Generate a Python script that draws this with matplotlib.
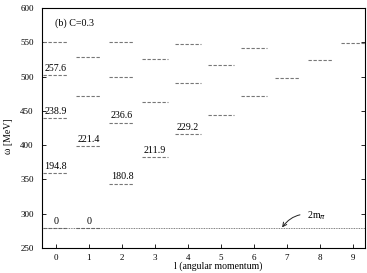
import matplotlib
matplotlib.use('Agg')
from matplotlib import pyplot as plt

# levels per angular momentum l
ls = [0, 0, 0, 0, 0,
      1, 1, 1, 1,
      2, 2, 2, 2,
      3, 3, 3,
      4, 4, 4,
      5, 5,
      6, 6,
      7,
      8,
      9]
energies = [550, 502, 439, 359, 279,
            529, 471, 399, 279,
            551, 500, 433, 344,
            525, 463, 383,
            548, 491, 416,
            517, 444,
            541, 471,
            498,
            524,
            549]

# numbers written above some levels
label_l = [0, 0, 0, 0, 1, 1, 2, 2, 3, 4]
label_e = [502, 439, 359, 279, 399, 279, 433, 344, 383, 416]
label_txt = ['257.6', '238.9', '194.8', '0', '221.4', '0', '236.6', '180.8', '211.9', '229.2']

two_m_pi = 279

plt.rcParams['font.family'] = ['Liberation Serif', 'DejaVu Serif']
plt.rcParams['font.size'] = 6.5

fig = plt.figure(figsize=(3.67, 2.73), dpi=100)
ax = fig.add_axes([42 / 367, 25 / 273, 323 / 367, 240 / 273])

half = 0.38
for l, e in zip(ls, energies):
    ax.plot([l - half, l + half], [e, e], color='#777777', lw=0.8, ls=(0, (3, 1.5)))

for l, e, t in zip(label_l, label_e, label_txt):
    ax.text(l, e + 3, t, ha='center', va='bottom', fontsize=7.2)

ax.axhline(two_m_pi, color='#555555', lw=0.6, ls=(0, (1, 1)))
ax.annotate('2m$_\\pi$', xy=(6.85, two_m_pi + 1), xytext=(7.6, 297),
            fontsize=7.2, va='center', ha='left',
            arrowprops=dict(arrowstyle='->', color='#222222', lw=0.7,
                            connectionstyle='arc3,rad=0.35', shrinkA=3, shrinkB=0))

ax.text(-0.03, 578, '(b) C=0.3', fontsize=7.2, va='center')

ax.set_xlim(-0.42, 9.36)
ax.set_ylim(250, 600)
ax.set_xticks(range(10))
ax.set_yticks(range(250, 601, 50))
ax.tick_params(direction='in', right=True, length=3, width=0.6, labelsize=6.5)
ax.tick_params(axis='y', pad=6)
ax.tick_params(axis='x', pad=4)
for s in ax.spines.values():
    s.set_linewidth(0.8)
ax.set_xlabel('l (angular momentum)', labelpad=-1, fontsize=7)
ax.xaxis.set_label_coords(0.545, -0.055)
ax.set_ylabel('ω [MeV]', fontsize=7)
ax.yaxis.set_label_coords(-0.09, 0.467)

fig.savefig('out.png', dpi=100)
